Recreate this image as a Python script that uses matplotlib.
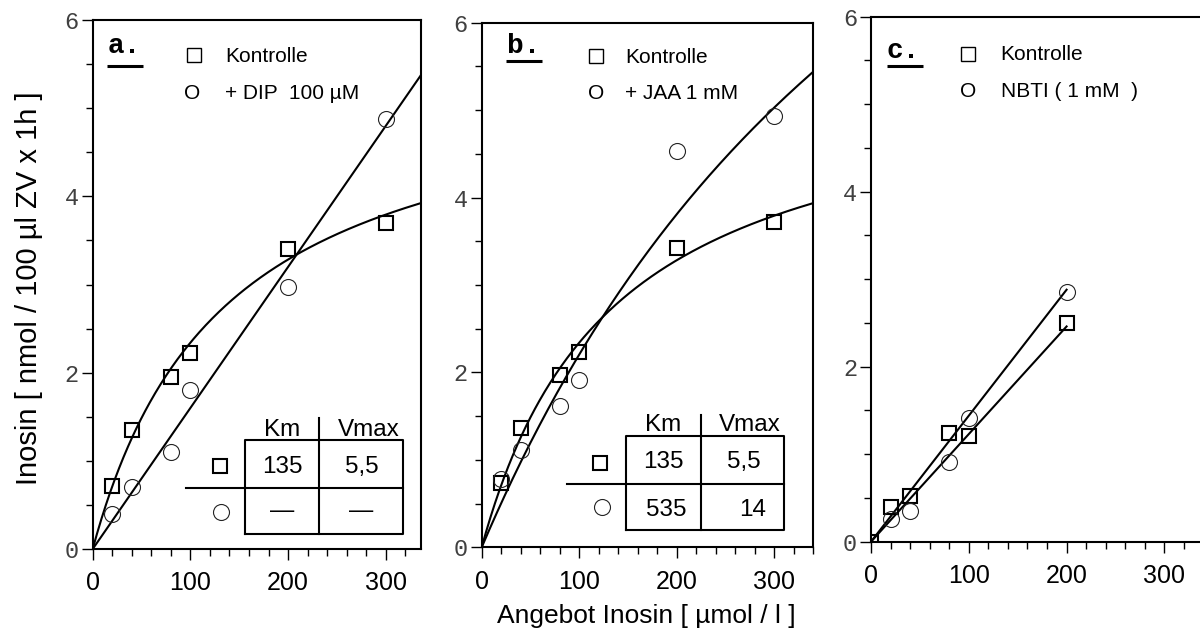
import numpy as np
import matplotlib
matplotlib.use("Agg")
import matplotlib.pyplot as plt
from matplotlib.ticker import MultipleLocator, FixedLocator

# ---- measured uptake data --------------------------------------------------
conc_ab = [20, 40, 80, 100, 200, 300]          # Angebot Inosin [µmol/l]
kontrolle_a = [0.71, 1.35, 1.95, 2.22, 3.40, 3.70]
dip_a = [0.40, 0.70, 1.10, 1.80, 2.97, 4.88]

kontrolle_b = [0.73, 1.37, 1.97, 2.23, 3.42, 3.72]
jaa_b = [0.78, 1.11, 1.62, 1.91, 4.53, 4.93]

conc_c_ctrl = [0, 20, 40, 80, 100, 200]
kontrolle_c = [0.0, 0.40, 0.52, 1.24, 1.21, 2.50]
conc_c_nbti = [20, 40, 80, 100, 200]
nbti_c = [0.26, 0.35, 0.91, 1.41, 2.85]

# ---- fitted kinetics ---------------------------------------------------------
km_ctrl, vmax_ctrl = 135, 5.5
km_jaa, vmax_jaa = 535, 14
dip_slope = 0.016
ctrl_c_slope = 0.0123
nbti_c_slope = 0.0144

legend_a = ["Kontrolle", "+ DIP  100 µM"]
legend_b = ["Kontrolle", "+ JAA 1 mM"]
legend_c = ["Kontrolle", "NBTI ( 1 mM  )"]
table_a = [["135", "5,5"], ["—", "—"]]
table_b = [["135", "5,5"], ["535", "14"]]
y_ticks = [0, 2, 4, 6]
x_ticks = [0, 100, 200, 300]

SANS = "Liberation Sans"
MONO = "Liberation Mono"


def mm(s, km, vmax):
    return vmax * s / (km + s)


W, H = 1200, 635
fig = plt.figure(figsize=(W / 100, H / 100), dpi=100)


def px_axes(left, right, bottom, top):
    return fig.add_axes([left / W, 1 - bottom / H, (right - left) / W, (bottom - top) / H])


ax_a = px_axes(92.7, 421.0, 549.0, 20.0)
ax_b = px_axes(481.7, 813.3, 547.3, 22.7)
ax_c = px_axes(871.0, 1203.5, 541.7, 16.7)
xmax = {ax_a: 336, ax_b: 340, ax_c: 340}

sq_kw = dict(ls="none", marker="s", ms=10, mfc="none", mec="black", mew=1.5, zorder=4)
ci_kw = dict(ls="none", marker="o", ms=11.5, mfc="none", mec="#222222", mew=0.8, zorder=4)
line_kw = dict(color="black", lw=1.5, zorder=3)

for ax in (ax_a, ax_b, ax_c):
    ax.set_xlim(0, xmax[ax])
    ax.set_ylim(0, 6)
    for sp in ax.spines.values():
        sp.set_linewidth(1.5)
    ax.xaxis.set_major_locator(FixedLocator(x_ticks))
    ax.xaxis.set_minor_locator(MultipleLocator(20))
    ax.yaxis.set_major_locator(FixedLocator(y_ticks))
    ax.yaxis.set_minor_locator(MultipleLocator(0.5))
    ax.tick_params(axis="both", which="both", direction="out", width=1.0, color="black")
    ax.tick_params(axis="x", which="major", length=8, pad=8)
    ax.tick_params(axis="x", which="minor", length=5)
    ax.tick_params(axis="y", which="major", length=8, pad=2)
    ax.tick_params(axis="y", which="minor", length=5)
    ax.set_xticks(x_ticks)
    ax.set_xticklabels([str(v) for v in x_ticks], fontfamily=SANS, fontsize=18)
    ax.set_yticks(y_ticks)
    ax.set_yticklabels([str(v) for v in y_ticks], fontfamily=MONO, fontsize=17,
                       color="#404040")

# ---- panel a ----
sa = np.linspace(0, xmax[ax_a], 300)
ax_a.plot(sa, mm(sa, km_ctrl, vmax_ctrl), **line_kw)
ax_a.plot(sa, dip_slope * sa, **line_kw)
ax_a.plot(conc_ab, kontrolle_a, **sq_kw)
ax_a.plot(conc_ab, dip_a, **ci_kw)

# ---- panel b ----
sb = np.linspace(0, xmax[ax_b], 300)
ax_b.plot(sb, mm(sb, km_ctrl, vmax_ctrl), **line_kw)
ax_b.plot(sb, mm(sb, km_jaa, vmax_jaa), **line_kw)
ax_b.plot(conc_ab, kontrolle_b, **sq_kw)
ax_b.plot(conc_ab, jaa_b, **ci_kw)

# ---- panel c ----
sc = np.array([0, max(conc_c_ctrl)])
ax_c.plot(sc, ctrl_c_slope * sc, **line_kw)
ax_c.plot(sc, nbti_c_slope * sc, **line_kw)
ax_c.plot(conc_c_ctrl, kontrolle_c, **sq_kw)
ax_c.plot(conc_c_nbti, nbti_c, **ci_kw)
ax_c.spines["right"].set_visible(False)


def panel_header(ax, letter, lx, ly, ul, sqpos, cix, tx, tys, labels):
    ax.text(lx, ly, letter, transform=ax.transAxes, fontfamily=MONO, fontweight="bold",
            fontsize=20, ha="left", va="baseline")
    ax.plot(ul[0], ul[1], transform=ax.transAxes, color="black", lw=2.2,
            solid_capstyle="butt", clip_on=False)
    ax.plot([sqpos[0]], [sqpos[1]], transform=ax.transAxes, ls="none", marker="s",
            ms=9.5, mfc="none", mec="black", mew=1.0)
    ax.text(cix, tys[1], "O", transform=ax.transAxes, fontfamily=SANS,
            fontsize=15, ha="center", va="baseline")
    for t, y in zip(labels, tys):
        ax.text(tx, y, t, transform=ax.transAxes, fontfamily=SANS, fontsize=15,
                ha="left", va="baseline")


panel_header(ax_a, "a.", 0.044, 0.9376, ([0.044, 0.154], [0.9136, 0.9136]),
             (0.309, 0.934), 0.303, 0.403, (0.921, 0.851), legend_a)
panel_header(ax_b, "b.", 0.0754, 0.9423, ([0.073, 0.182], [0.927, 0.927]),
             (0.3447, 0.937), 0.3447, 0.432, (0.9237, 0.8546), legend_b)
panel_header(ax_c, "c.", 0.048, 0.921, ([0.048, 0.156], [0.906, 0.906]),
             (0.2926, 0.929), 0.2926, 0.390, (0.9175, 0.8476), legend_c)


def kinetics_table(ax, box, vmid, vtop, hmid, hleft, head_y, head_x, cell_x, row_y,
                   marker_x, marker_y, values):
    l, r, t, b = box
    tk = dict(transform=ax.transAxes, color="black", lw=1.5, clip_on=False,
              solid_capstyle="projecting")
    ax.plot([l, r, r, l, l], [b, b, t, t, b], **tk)
    ax.plot([vmid, vmid], [b, vtop], **tk)
    ax.plot([hleft, r], [hmid, hmid], **tk)
    for name, x in zip(["Km", "Vmax"], head_x):
        ax.text(x, head_y, name, transform=ax.transAxes, fontfamily=SANS, fontsize=17.5,
                ha="center", va="baseline")
    for row, xs, y in zip(values, cell_x, row_y):
        for val, x in zip(row, xs):
            ax.text(x, y, val, transform=ax.transAxes, fontfamily=SANS, fontsize=17.5,
                    ha="center", va="baseline")
    ax.plot([marker_x[0]], [marker_y[0]], transform=ax.transAxes, clip_on=False, **sq_kw)
    ax.plot([marker_x[1]], [marker_y[1]], transform=ax.transAxes, clip_on=False, **ci_kw)


kinetics_table(ax_a, (0.4639, 0.9443, 0.2061, 0.0284), 0.690, 0.2471, 0.1153, 0.284,
               0.2136, (0.576, 0.840), ((0.5766, 0.819), (0.5766, 0.819)),
               (0.1437, 0.0605), (0.388, 0.390), (0.157, 0.0705), table_a)
kinetics_table(ax_b, (0.4352, 0.9116, 0.2122, 0.033), 0.6613, 0.2522, 0.1207, 0.2581,
               0.2223, (0.5476, 0.809), ((0.5476, 0.789), (0.558, 0.817)),
               (0.1512, 0.0591), (0.3568, 0.3619), (0.160, 0.0774), table_b)

fig.text(29 / W, 1 - 288 / H, "Inosin [ nmol / 100 µl ZV x 1h ]", rotation=90,
         fontfamily=SANS, fontsize=21, ha="center", va="center")
fig.text(646 / W, 1 - 616 / H, "Angebot Inosin [ µmol / l ]", fontfamily=SANS,
         fontsize=19, ha="center", va="center")

fig.savefig("out.png", dpi=100, facecolor="white")
